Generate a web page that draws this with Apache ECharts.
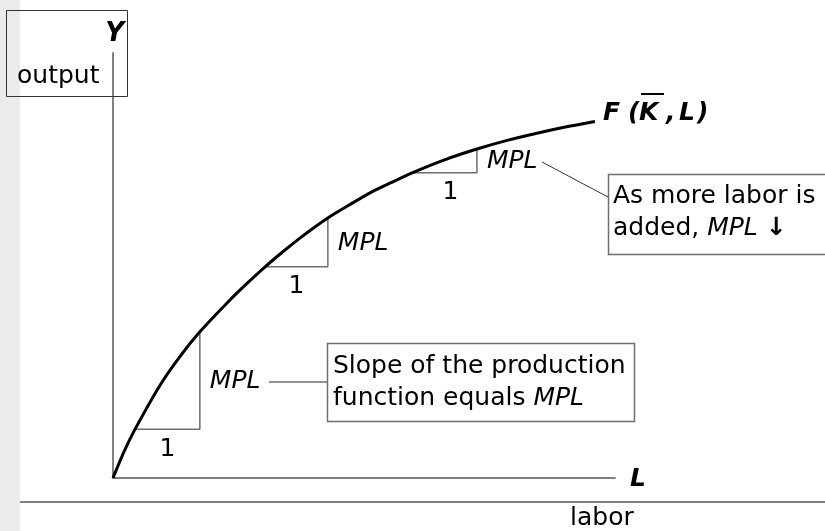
<!DOCTYPE html>
<html><head><meta charset="utf-8">
<script src="https://cdn.jsdelivr.net/npm/echarts@6/dist/echarts.min.js"></script>
<style>html,body{margin:0;padding:0;background:#fff}#c{width:825px;height:531px}</style>
</head><body><div id="c"></div>
<script>
// Production function curve (labor L, output Y)
const laborL  = [0, 0.22, 0.44, 0.94, 1.34, 1.73, 2.33, 2.67, 3.03, 3.39, 3.73, 4.00, 4.28,
                 4.70, 5.12, 5.54, 5.96, 6.59, 7.25, 7.87, 8.51, 9.06, 9.60];
const outputY = [0, 0.62, 1.15, 2.19, 2.87, 3.44, 4.19, 4.58, 4.97, 5.33, 5.65, 5.89, 6.12,
                 6.42, 6.71, 6.95, 7.18, 7.48, 7.74, 7.95, 8.13, 8.27, 8.39];
// MPL triangles: run from L0 to L1 at height Y0, rise to Y1
const triL0 = [0.44, 3.03, 5.96];
const triL1 = [1.73, 4.28, 7.25];
const triY0 = [1.15, 4.97, 7.18];
const triY1 = [3.44, 6.12, 7.74];

const FONT = '"DejaVu Sans", Tahoma, Verdana, sans-serif';
const chart = echarts.init(document.getElementById('c'), null, {renderer: 'canvas'});

const series = [{
  type: 'line', data: laborL.map((l, i) => [l, outputY[i]]),
  smooth: 0.25, symbol: 'none',
  lineStyle: {color: '#000', width: 3}, z: 5, silent: true
}];
triL0.forEach((l0, i) => {
  series.push({
    type: 'line', data: [[l0, triY0[i]], [triL1[i], triY0[i]], [triL1[i], triY1[i]]],
    symbol: 'none', lineStyle: {color: '#6f6f6f', width: 1.5}, z: 3, silent: true
  });
});

chart.setOption({
  animation: false,
  backgroundColor: '#fff',
  grid: {left: 113, right: 210, top: 53, bottom: 53},
  xAxis: {type: 'value', min: 0, max: 10, axisLine: {show: true, onZero: false, lineStyle: {color: '#808080', width: 2}},
    axisTick: {show: false}, axisLabel: {show: false}, splitLine: {show: false}},
  yAxis: {type: 'value', min: 0, max: 10, axisLine: {show: true, onZero: false, lineStyle: {color: '#808080', width: 2}},
    axisTick: {show: false}, axisLabel: {show: false}, splitLine: {show: false}},
  series: series
});

function txt(x, y, text, font, align, extra) {
  return Object.assign({type: 'text', x: x, y: y, z: 10,
    style: Object.assign({text: text, font: font, fill: '#000', align: align || 'left', verticalAlign: 'middle'}, extra || {})});
}
const reg = '25px ' + FONT, ita = 'italic 25px ' + FONT, bi = 'italic bold 25px ' + FONT;

const g = [];
// left grey strip
g.push({type: 'rect', shape: {x: 0, y: 0, width: 20, height: 531}, style: {fill: '#ebebeb'}, z: 0});
// bottom separator line
g.push({type: 'line', shape: {x1: 20, y1: 502, x2: 825, y2: 502}, style: {stroke: '#808080', lineWidth: 2}, z: 1});
// Y / output box
g.push({type: 'rect', shape: {x: 6.5, y: 10.5, width: 121, height: 86}, style: {fill: 'none', stroke: '#333', lineWidth: 1}, z: 1});
g.push(txt(124, 34, 'Y', 'italic bold 26px ' + FONT, 'right'));
g.push(txt(17, 76, 'output', reg, 'left'));
// axis labels
g.push(txt(630, 479, 'L', bi, 'left'));
g.push(txt(570, 518, 'labor', reg, 'left'));
// F(K,L)
g.push(txt(603, 113, 'F', bi)); g.push(txt(628, 113, '(', bi)); g.push(txt(639, 113, 'K', bi));
g.push(txt(666, 113, ',', bi)); g.push(txt(679, 113, 'L', bi)); g.push(txt(697, 113, ')', bi));
g.push({type: 'line', shape: {x1: 641, y1: 94, x2: 664, y2: 94}, style: {stroke: '#000', lineWidth: 2}, z: 10});

// triangle labels from data via axes
triL0.forEach((l0, i) => {
  const pA = chart.convertToPixel({gridIndex: 0}, [l0, triY0[i]]);
  const pB = chart.convertToPixel({gridIndex: 0}, [triL1[i], triY0[i]]);
  const pC = chart.convertToPixel({gridIndex: 0}, [triL1[i], triY1[i]]);
  g.push(txt((pA[0] + pB[0]) / 2 + (i === 2 ? 6 : 0), pB[1] + 20, '1', reg, 'center'));
  g.push(txt(pB[0] + 10, (pB[1] + pC[1]) / 2 + 1, 'MPL', ita, 'left'));
});
// leader lines
g.push({type: 'line', shape: {x1: 269, y1: 382, x2: 327, y2: 382}, style: {stroke: '#6f6f6f', lineWidth: 1.5}, z: 10});
g.push({type: 'line', shape: {x1: 542, y1: 162, x2: 608, y2: 197}, style: {stroke: '#333', lineWidth: 1}, z: 10});
// box 1
g.push({type: 'rect', shape: {x: 327.5, y: 343.5, width: 307, height: 78}, style: {fill: '#fff', stroke: '#6f6f6f', lineWidth: 1.5}, z: 9});
g.push(txt(333, 366, 'Slope of the production', reg));
g.push(txt(333, 398, 'function equals {i|MPL}', reg, 'left', {rich: {i: {font: ita}}}));
// box 2
g.push({type: 'rect', shape: {x: 608.5, y: 174.5, width: 220, height: 80}, style: {fill: '#fff', stroke: '#6f6f6f', lineWidth: 1.5}, z: 9});
g.push(txt(613, 196, 'As more labor is', reg));
g.push(txt(613, 228, 'added, {i|MPL} {b|↓}', reg, 'left', {rich: {i: {font: ita}, b: {font: 'bold 25px ' + FONT}}}));

chart.setOption({graphic: {elements: g}});
</script></body></html>
